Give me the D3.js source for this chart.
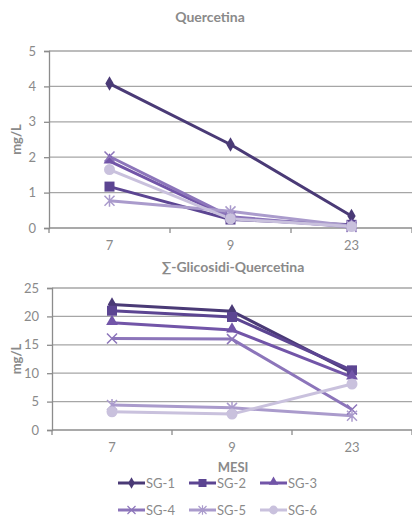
<!DOCTYPE html>
<html>
<head>
<meta charset="utf-8">
<script src="https://cdn.jsdelivr.net/npm/d3@7/dist/d3.min.js"></script>
<style>
  body { margin: 0; background: #fff; }
  text { font-family: Lato, "Open Sans", sans-serif; fill: #8a8a8a; }
</style>
</head>
<body>
<div id="chart"></div>
<script>
// months on the x axis
var months = ['7', '9', '23'];
var seriesNames = ['SG-1', 'SG-2', 'SG-3', 'SG-4', 'SG-5', 'SG-6'];

// Quercetina (mg/L)
var quercetina = [
  [4.08, 2.36, 0.34],
  [1.17, 0.24, 0.09],
  [1.89, 0.28, 0.05],
  [2.02, 0.32, 0.03],
  [0.77, 0.47, 0.06],
  [1.65, 0.26, 0.04]
];

// Sum of glicosidi (mg/L)
var glicosidi = [
  [22.1, 20.9, 10.1],
  [21.0, 19.9, 10.5],
  [18.9, 17.6, 9.3],
  [16.1, 16.0, 3.6],
  [4.4, 3.9, 2.5],
  [3.2, 2.8, 8.1]
];

var quercTicks = [0, 1, 2, 3, 4, 5];
var glicTicks = [0, 5, 10, 15, 20, 25];

var colors = ['#4a3a76', '#5c4592', '#7255a8', '#8c75ba', '#aa9bcc', '#c9c1dd'];
var shapes = ['diamond', 'square', 'triangle', 'x', 'star', 'circle'];

var width = 412, height = 518;
var svg = d3.select('#chart').append('svg')
  .attr('width', width)
  .attr('height', height);

function drawMarker(g, shape, color, x, y, k) {
  k = k || 1;
  if (shape === 'diamond') {
    g.append('path').attr('d', d3.symbol(d3.symbolDiamond, 60 * k * k)())
      .attr('transform', 'translate(' + x + ',' + y + ')').attr('fill', color);
  } else if (shape === 'square') {
    var s = 10 * k;
    g.append('rect').attr('x', x - s / 2).attr('y', y - s / 2).attr('width', s).attr('height', s).attr('fill', color);
  } else if (shape === 'triangle') {
    g.append('path').attr('d', d3.symbol(d3.symbolTriangle, 60 * k * k)())
      .attr('transform', 'translate(' + x + ',' + (y - 1) + ')').attr('fill', color);
  } else if (shape === 'x') {
    g.append('path').attr('d', 'M-5,-5L5,5M-5,5L5,-5')
      .attr('transform', 'translate(' + x + ',' + y + ') scale(' + k + ')')
      .attr('stroke', color).attr('stroke-width', 1.5).attr('fill', 'none');
  } else if (shape === 'star') {
    g.append('path').attr('d', 'M-5,-5L5,5M-5,5L5,-5M0,-6L0,6')
      .attr('transform', 'translate(' + x + ',' + y + ') scale(' + k + ')')
      .attr('stroke', color).attr('stroke-width', 1.5).attr('fill', 'none');
  } else {
    g.append('circle').attr('cx', x).attr('cy', y).attr('r', 5.5 * k).attr('fill', color);
  }
}

function panel(opts) {
  var g = svg.append('g');
  var x = d3.scaleBand().domain(months).range([opts.left, 412]).padding(0);
  var y = d3.scaleLinear().domain([0, d3.max(opts.ticks)]).range([opts.bottom, opts.top]);

  // gridlines
  g.selectAll('line.grid').data(opts.ticks.slice(1)).enter()
    .append('line')
    .attr('x1', opts.left).attr('x2', 412)
    .attr('y1', d => y(d)).attr('y2', d => y(d))
    .attr('stroke', '#a6a6a6').attr('stroke-width', 1.3);

  // y axis
  var yAxis = d3.axisLeft(y).tickValues(opts.ticks).tickFormat(d3.format('d'))
    .tickSize(5).tickPadding(8);
  var ya = g.append('g').attr('transform', 'translate(' + opts.left + ',0)').call(yAxis);
  ya.select('.domain').attr('stroke', '#8c8c8c').attr('stroke-width', 1.3);
  ya.selectAll('.tick line').attr('stroke', '#8c8c8c').attr('stroke-width', 1.3);
  ya.selectAll('.tick text').attr('font-size', 13).style('fill', '#8a8a8a')
    .attr('font-family', 'Lato, sans-serif');

  // x axis line with ticks at band edges
  var xa = g.append('g');
  xa.append('line').attr('x1', opts.left).attr('x2', 412)
    .attr('y1', opts.bottom).attr('y2', opts.bottom)
    .attr('stroke', '#8c8c8c').attr('stroke-width', 1.3);
  var edges = months.map(m => x(m)).concat([x(months[months.length - 1]) + x.bandwidth()]);
  xa.selectAll('line.tk').data(edges).enter().append('line')
    .attr('x1', d => d).attr('x2', d => d)
    .attr('y1', opts.bottom).attr('y2', opts.bottom + 5)
    .attr('stroke', '#8c8c8c').attr('stroke-width', 1.3);
  xa.selectAll('text').data(months).enter().append('text')
    .attr('x', d => x(d) + x.bandwidth() / 2)
    .attr('y', opts.bottom + 22)
    .attr('text-anchor', 'middle')
    .attr('font-size', 13)
    .text(d => d);

  // title
  g.append('text')
    .attr('x', opts.titleX).attr('y', opts.titleY)
    .attr('text-anchor', 'middle')
    .attr('font-size', 14).attr('font-weight', 'bold')
    .text(opts.title);

  // y title
  g.append('text')
    .attr('transform', 'translate(21,' + ((opts.top + opts.bottom) / 2) + ') rotate(-90)')
    .attr('text-anchor', 'middle')
    .attr('font-size', 13).attr('font-weight', 'bold')
    .text('mg/L');

  var line = d3.line()
    .x((d, i) => x(months[i]) + x.bandwidth() / 2)
    .y(d => y(d));

  opts.data.forEach(function(vals, s) {
    g.append('path').datum(vals)
      .attr('d', line)
      .attr('fill', 'none')
      .attr('stroke', colors[s])
      .attr('stroke-width', 3);
  });
  opts.data.forEach(function(vals, s) {
    vals.forEach(function(v, i) {
      drawMarker(g, shapes[s], colors[s], x(months[i]) + x.bandwidth() / 2, y(v));
    });
  });
}

panel({
  data: quercetina, ticks: quercTicks, title: 'Quercetina',
  left: 49, top: 51, bottom: 228, titleX: 210, titleY: 22
});

panel({
  data: glicosidi, ticks: glicTicks, title: '\u2211-Glicosidi-Quercetina',
  left: 52, top: 288, bottom: 430, titleX: 233, titleY: 272
});

// x title
svg.append('text')
  .attr('x', 233).attr('y', 472)
  .attr('text-anchor', 'middle')
  .attr('font-size', 13).attr('font-weight', 'bold')
  .text('MESI');

// legend
var legendX = [118, 189, 260];
var legendY = [483, 510];
seriesNames.forEach(function(name, s) {
  var lx = legendX[s % 3], ly = legendY[Math.floor(s / 3)];
  var lg = svg.append('g');
  lg.append('line').attr('x1', lx).attr('x2', lx + 27)
    .attr('y1', ly).attr('y2', ly)
    .attr('stroke', colors[s]).attr('stroke-width', 3);
  drawMarker(lg, shapes[s], colors[s], lx + 13.5, ly, 0.8);
  lg.append('text').attr('x', lx + 28).attr('y', ly + 4.5)
    .attr('font-size', 13).text(name);
});
</script>
</body>
</html>
